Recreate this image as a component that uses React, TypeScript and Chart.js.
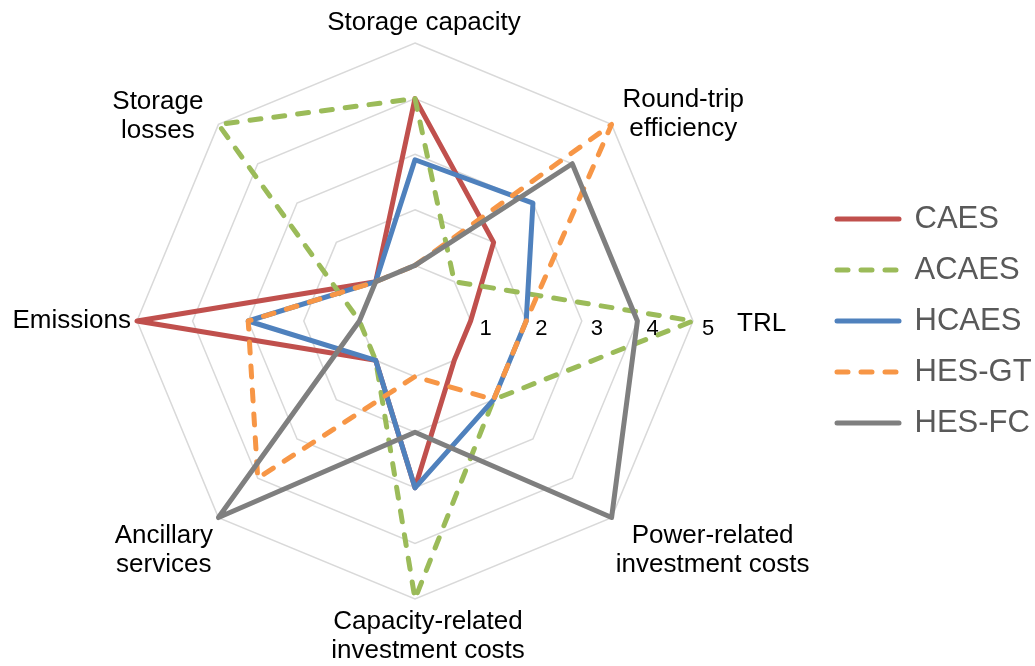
import React, { useEffect, useRef } from 'react';
import { Chart, registerables } from 'chart.js';

Chart.register(...registerables);

// Axes, clockwise from the top
const categories: string[][] = [
  ['Storage capacity'],
  ['Round-trip', 'efficiency'],
  ['TRL'],
  ['Power-related', 'investment costs'],
  ['Capacity-related', 'investment costs'],
  ['Ancillary', 'services'],
  ['Emissions'],
  ['Storage', 'losses'],
];

const seriesNames = ['CAES', 'ACAES', 'HCAES', 'HES-GT', 'HES-FC'];
const caesValues = [4, 2, 1, 1, 3, 1, 5, 1];
const acaesValues = [4, 1, 5, 2, 5, 1, 1, 5];
const hcaesValues = [2.9, 3, 2, 2, 3, 1, 3, 1];
const hesGtValues = [1, 5, 2, 2, 1, 4, 3, 1];
const hesFcValues = [1, 4, 4, 5, 2, 5, 1, 1];
const seriesValues = [caesValues, acaesValues, hcaesValues, hesGtValues, hesFcValues];
const seriesColors = ['#C0504D', '#9BBB59', '#4F81BD', '#F79646', '#7F7F7F'];
const seriesDashed = [false, true, false, true, false];

const scaleMin = 0;
const scaleMax = 5;
const scaleStep = 1;
const tickAxisIndex = 2; // tick labels run along the TRL axis

const FONT = '"Liberation Sans", Arial, Helvetica, sans-serif';

// placement of each axis title relative to its spoke end
const labelLayout = [
  { d: 20, ha: 'center', va: 'middle', dx: 9, dy: 0 },
  { d: 14, ha: 'left', va: 'middle', dx: 1, dy: 0 },
  { d: 44, ha: 'left', va: 'middle', dx: 0, dy: 3 },
  { d: 6, ha: 'left', va: 'top', dx: 0, dy: 0 },
  { d: 8, ha: 'center', va: 'top', dx: 13, dy: 0 },
  { d: 5, ha: 'right', va: 'top', dx: -2, dy: 0 },
  { d: 6, ha: 'right', va: 'middle', dx: 0, dy: 0 },
  { d: 10, ha: 'right', va: 'middle', dx: -8, dy: -1 },
];

const labelPlugin = {
  id: 'customRadarLabels',
  afterDraw(chart: any) {
    const scale = chart.scales.r;
    const ctx = chart.ctx as CanvasRenderingContext2D;
    ctx.save();
    ctx.font = `26px ${FONT}`;
    ctx.fillStyle = '#000000';
    ctx.textBaseline = 'middle';
    ctx.textAlign = 'center';
    const lh = 29;
    (chart.data.labels as any[]).forEach((lab, i) => {
      const lines: string[] = Array.isArray(lab) ? lab : [String(lab)];
      const cfg = labelLayout[i];
      const p = scale.getPointPosition(i, scale.drawingArea + cfg.d);
      const w = Math.max(...lines.map((l) => ctx.measureText(l).width));
      const h = lines.length * lh;
      let cx = p.x + cfg.dx;
      if (cfg.ha === 'left') cx += w / 2;
      else if (cfg.ha === 'right') cx -= w / 2;
      let top = p.y + cfg.dy;
      if (cfg.va === 'middle') top -= h / 2;
      else if (cfg.va === 'bottom') top -= h;
      lines.forEach((l, k) => ctx.fillText(l, cx, top + lh * k + lh / 2));
    });

    ctx.font = `22px ${FONT}`;
    ctx.textAlign = 'left';
    scale.ticks.forEach((t: any) => {
      if (t.value <= scale.min) return;
      const p = scale.getPointPosition(tickAxisIndex, scale.getDistanceFromCenterForValue(t.value));
      ctx.fillText(String(t.value), p.x + 9, p.y + 8);
    });
    ctx.restore();
  },
};

export default function App() {
  const canvasRef = useRef<HTMLCanvasElement | null>(null);

  useEffect(() => {
    if (!canvasRef.current) return;
    const datasets = seriesNames.map((name, i) => ({
      label: name,
      data: seriesValues[i],
      borderColor: seriesColors[i],
      backgroundColor: 'transparent',
      borderWidth: 5,
      borderDash: seriesDashed[i] ? [11, 13] : [],
      borderCapStyle: 'round' as const,
      borderJoinStyle: 'round' as const,
      fill: false,
      pointRadius: 0,
      pointHoverRadius: 0,
      tension: 0,
      order: seriesNames.length - i,
    }));

    const chart = new Chart(canvasRef.current, {
      type: 'radar',
      data: { labels: categories, datasets },
      options: {
        animation: false,
        responsive: true,
        maintainAspectRatio: false,
        events: [],
        layout: { padding: { left: 13, top: 43, bottom: 67, right: 0 } },
        scales: {
          r: {
            min: scaleMin,
            max: scaleMax,
            beginAtZero: true,
            ticks: { stepSize: scaleStep, display: false },
            grid: { color: '#D9D9D9', lineWidth: 1.5 },
            angleLines: { display: false },
            pointLabels: { display: false },
          },
        },
        plugins: {
          tooltip: { enabled: false },
          legend: {
            position: 'right',
            maxWidth: 218,
            labels: {
              usePointStyle: true,
              pointStyle: 'line',
              pointStyleWidth: 62,
              padding: 20,
              color: '#595959',
              font: { size: 31, family: FONT },
              generateLabels: (ch: any) =>
                ch.data.datasets.map((ds: any, i: number) => ({
                  text: ds.label,
                  fillStyle: 'transparent',
                  strokeStyle: ds.borderColor,
                  lineWidth: 5,
                  lineDash: ds.borderDash || [],
                  lineCap: 'round',
                  lineJoin: 'round',
                  pointStyle: 'line',
                  fontColor: '#595959',
                  hidden: false,
                  datasetIndex: i,
                })),
            },
          },
        },
      },
      plugins: [labelPlugin],
    });
    return () => chart.destroy();
  }, []);

  return (
    <div style={{ position: 'fixed', left: 0, top: 0, width: 1035, height: 666, background: '#ffffff' }}>
      <canvas ref={canvasRef} />
    </div>
  );
}
